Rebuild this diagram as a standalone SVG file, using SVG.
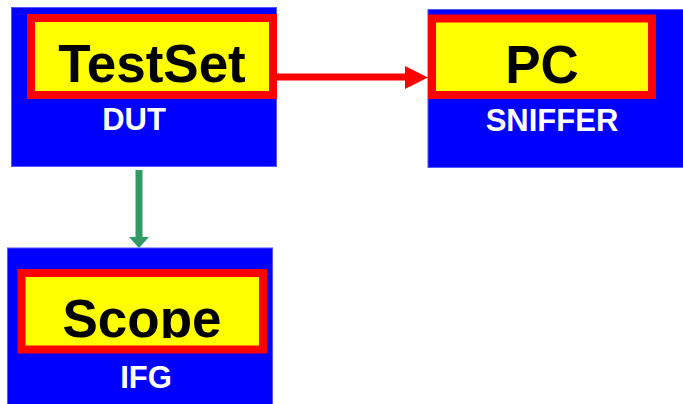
<svg xmlns="http://www.w3.org/2000/svg" width="683" height="404" viewBox="0 0 683 404">
<style>
.blue{fill:#0000ff;stroke:#5555ff;stroke-width:1}
.inner{fill:#ffff00;stroke:#ff0000;stroke-width:8}
.title{font-family:"Liberation Sans",Arial,sans-serif;font-weight:bold;font-size:53px;fill:#000;text-anchor:middle}
.sub{font-family:"Liberation Sans",Arial,sans-serif;font-weight:bold;font-size:31px;fill:#fff;text-anchor:middle}
</style>
<defs>
<clipPath id="scopeClip"><rect x="26" y="277" width="233" height="61"/></clipPath>
</defs>
<g id="dut">
<rect class="blue" x="11.5" y="7.5" width="265" height="159"/>
<rect class="inner" x="31" y="18" width="242" height="77"/>
<text class="title" x="152" y="82">TestSet</text>
<text class="sub" x="134" y="130">DUT</text>
</g>
<g id="pc">
<rect class="blue" x="428" y="9.5" width="260" height="158"/>
<rect class="inner" x="432" y="18.5" width="220" height="76.5"/>
<text class="title" x="542" y="83">PC</text>
<text class="sub" x="552" y="131">SNIFFER</text>
</g>
<g id="scope">
<rect class="blue" x="7.5" y="248" width="265" height="160"/>
<rect class="inner" x="21.5" y="273" width="241.5" height="76.5"/>
<text class="title" x="142" y="337" clip-path="url(#scopeClip)">Scope</text>
<text class="sub" x="146" y="388">IFG</text>
</g>
<g id="connectors">
<line x1="277" y1="77" x2="406" y2="77" stroke="#ff0000" stroke-width="7"/>
<polygon points="405,66 428,77.5 405,89" fill="#ff0000"/>
<line x1="139" y1="170" x2="139" y2="238" stroke="#339966" stroke-width="7"/>
<polygon points="129,237 149,237 139,248" fill="#339966"/>
</g>
</svg>
